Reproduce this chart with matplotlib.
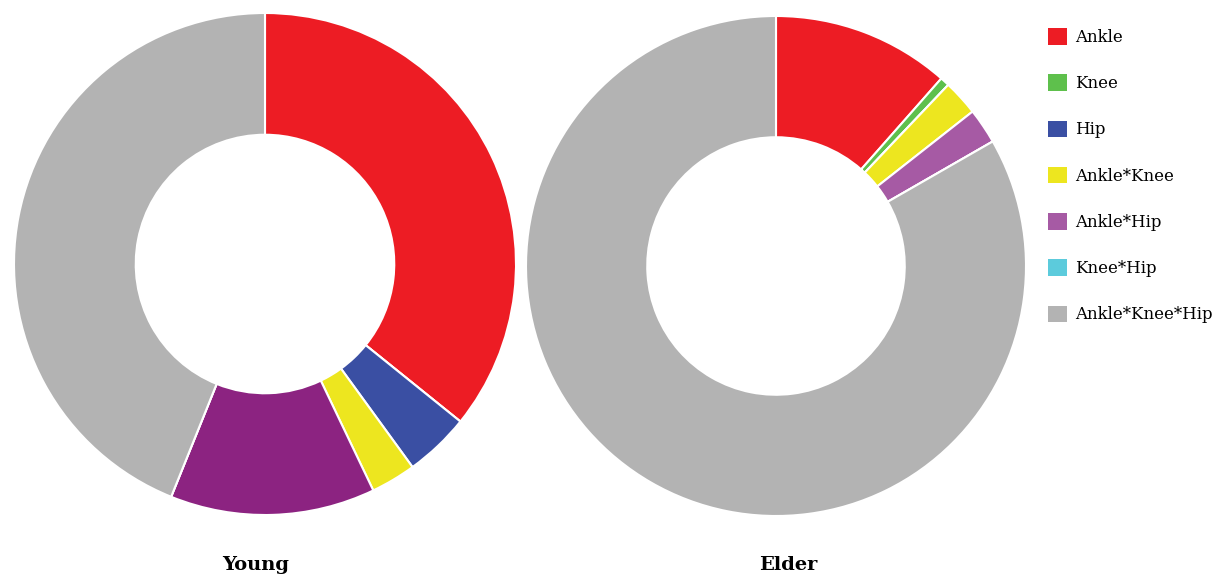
import matplotlib
matplotlib.use('Agg')
import matplotlib.pyplot as plt
from matplotlib.patches import Patch

# ================================== data ==================================
labels = ['Ankle', 'Knee', 'Hip', 'Ankle*Knee', 'Ankle*Hip', 'Knee*Hip', 'Ankle*Knee*Hip']
young = [35.8, 0.0, 4.2, 2.9, 13.2, 0.0, 43.9]
elder = [11.5, 0.6, 0.0, 2.3, 2.3, 0.0, 83.3]

colors_young = ['#ed1c24', '#5ec04c', '#3a4fa3', '#ede61f', '#8c2381', '#5ccbdc', '#b3b3b3']
colors_elder = ['#ed1c24', '#5ec04c', '#3a4fa3', '#ede61f', '#a65aa4', '#5ccbdc', '#b3b3b3']
legend_colors = ['#ed1c24', '#5ec04c', '#3a4fa3', '#ede61f', '#a65aa4', '#5ccbdc', '#b3b3b3']
titles = ['Young', 'Elder']
# ================================== end data ==================================

W, H = 1220, 579
fig = plt.figure(figsize=(W / 100, H / 100), dpi=100)


def donut(cx, cy, r, vals, cols, title, tx):
    ax = fig.add_axes([(cx - r) / W, (H - cy - r) / H, 2 * r / W, 2 * r / H])
    ax.pie(vals, colors=cols, startangle=90, counterclock=False, radius=1,
           wedgeprops=dict(width=0.485, edgecolor='white', linewidth=1.5))
    ax.set_xlim(-1, 1)
    ax.set_ylim(-1, 1)
    ax.set_aspect('equal')
    ax.axis('off')
    fig.text(tx / W, 1 - 565 / H, title, ha='center', va='center',
             fontsize=14, fontweight='bold', family='DejaVu Serif')


donut(265, 264, 251, young, colors_young, titles[0], 256)
donut(776, 266, 250, elder, colors_elder, titles[1], 788)

handles = [Patch(facecolor=c, edgecolor='none') for c in legend_colors]
fig.legend(handles, labels, loc='upper left', bbox_to_anchor=(1033 / W, 1 - 13 / H),
           frameon=False, prop={'family': 'DejaVu Serif', 'size': 12},
           handlelength=1.15, handleheight=1.15, handletextpad=0.45, labelspacing=1.7)

fig.savefig('out.png', dpi=100, facecolor='white')
